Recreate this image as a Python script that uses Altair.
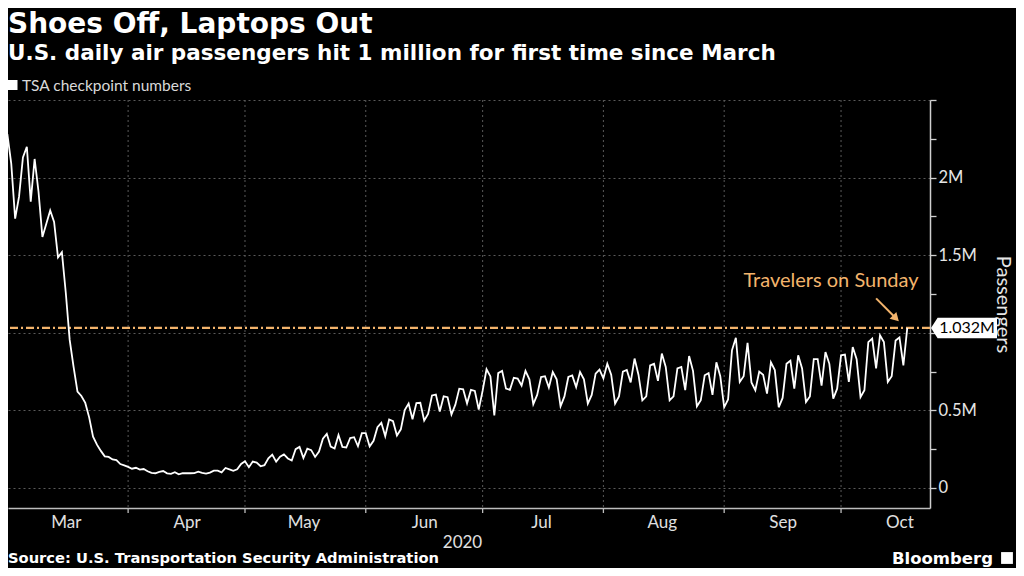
import altair as alt
import pandas as pd

# Daily TSA checkpoint numbers (thousands), 2020
mar = [2280, 2090, 1736, 1877, 2130, 2199, 1845, 2120, 1909, 1617,
       1703, 1788, 1714, 1486, 1519, 1258, 954, 780, 621, 593,
       548, 455, 331, 279, 239, 204, 200, 184, 180, 154, 146]
apr = [136, 124, 130, 118, 122, 108, 97, 95, 104, 109,
       94, 91, 102, 88, 95, 96, 95, 96, 105, 97,
       93, 99, 112, 112, 101, 129, 120, 111, 120, 155]
may = [172, 134, 170, 163, 140, 147, 191, 215, 170, 201,
       216, 190, 177, 250, 265, 193, 253, 244, 200, 235,
       318, 349, 267, 254, 341, 265, 261, 322, 327, 269, 353]
jun = [353, 268, 304, 392, 420, 333, 441, 430, 338, 378,
       502, 544, 443, 547, 549, 434, 477, 596, 602, 492,
       590, 585, 474, 537, 640, 636, 545, 632, 625, 505]
jul = [627, 765, 719, 467, 740, 755, 640, 632, 710, 705,
       660, 755, 700, 540, 600, 715, 720, 647, 747, 700,
       526, 590, 715, 725, 650, 747, 700, 544, 600, 737, 763]
aug = [707, 800, 730, 544, 590, 750, 760, 680, 834, 730,
       565, 590, 790, 800, 690, 866, 780, 565, 590, 770,
       780, 630, 850, 755, 526, 565, 726, 740, 600, 810, 720]
sep = [520, 570, 887, 968, 683, 720, 935, 680, 630, 750,
       730, 608, 810, 760, 520, 580, 800, 820, 640, 855,
       770, 554, 590, 830, 830, 660, 876, 800, 576, 640]
octo = [855, 860, 683, 908, 830, 586, 630, 940, 963, 770,
        984, 940, 683, 720, 950, 970, 790, 1031.505]

values_k = mar + apr + may + jun + jul + aug + sep + octo
dates = pd.date_range("2020-03-01", periods=len(values_k), freq="D").strftime("%Y-%m-%d")
df = pd.DataFrame({"date": list(dates), "passengers": [v * 1000 for v in values_k]})

month_starts = ["2020-04-01", "2020-05-01", "2020-06-01", "2020-07-01",
                "2020-08-01", "2020-09-01", "2020-10-01"]
month_label_days = [(3, 16), (4, 16), (5, 16), (6, 16), (7, 16), (8, 16), (9, 16), (10, 16)]
y_ticks = [0, 250000, 500000, 750000, 1000000, 1250000, 1500000, 1750000,
           2000000, 2250000, 2500000]
latest_value = 1031505
latest_label = "1.032M"

ORANGE = "#f3b46c"
W, H = 922, 408
FONT = "Lato"
HFONT = "DejaVu Sans"

xscale = alt.Scale(type="utc",
                   domain=[alt.DateTime(year=2020, month=3, date=1, hours=4, utc=True),
                           alt.DateTime(year=2020, month=10, date=23, hours=20, utc=True)])
yscale = alt.Scale(domain=[-129000, 2500000], nice=False, zero=False)

xaxis = alt.Axis(values=[alt.DateTime(year=2020, month=m, date=d, utc=True) for m, d in month_label_days],
                 format="%b", ticks=False, tickSize=0, grid=False, domain=True,
                 domainColor="#bdbdbd", domainWidth=1.5, labelColor="#e0e0e0",
                 labelFontSize=17, labelFont=FONT, labelBaseline="alphabetic",
                 labelPadding=19, title=None, labelFlush=False, labelOverlap=False)
yaxis = alt.Axis(orient="right", values=y_ticks,
                 labelExpr="datum.value == 0 ? '0' : (datum.value % 500000 != 0 || datum.value == 1000000 || datum.value == 2500000) ? '' : (datum.value / 1000000) + 'M'",
                 grid=True, gridColor="#5a5a5a", gridDash=[2, 3], gridWidth=1,
                 gridOpacity={"condition": {"test": "datum.value % 500000 === 0", "value": 1}, "value": 0},
                 tickSize=6, tickColor="#cfcfcf", tickWidth=1.3,
                 domainColor="#cfcfcf", domainWidth=1.5,
                 labelColor="#e6e6e6", labelFontSize=16.5, labelFont=FONT, labelPadding=2,
                 title="Passengers", titleColor="#e6e6e6", titleFontSize=20,
                 titleFont=FONT, titleFontWeight="normal", titleAngle=90,
                 titleX=72, titleY=H / 2, titleAlign="center", titleBaseline="middle")

ms_df = pd.DataFrame({"date": month_starts})
vgrid = alt.Chart(ms_df).mark_rule(color="#5a5a5a", strokeDash=[2, 3], strokeWidth=1).encode(
    x=alt.X("date:T", scale=xscale))
mticks = alt.Chart(ms_df).mark_rule(color="#bdbdbd", strokeWidth=1.3).encode(
    x=alt.X("date:T", scale=xscale), y=alt.value(H), y2=alt.value(H + 5))

ref = alt.Chart(pd.DataFrame({"v": [latest_value]})).mark_rule(
    color=ORANGE, strokeDash=[8, 3, 2, 3], strokeWidth=2.2).encode(
    y=alt.Y("v:Q", scale=yscale))

line = alt.Chart(df).mark_line(color="white", strokeWidth=1.8, clip=True).encode(
    x=alt.X("date:T", scale=xscale, axis=xaxis),
    y=alt.Y("passengers:Q", scale=yscale, axis=yaxis))

ann_df = pd.DataFrame({"date": ["2020-09-28T10:00:00Z"], "v": [1293000],
                       "label": ["Travelers on Sunday"]})
ann = alt.Chart(ann_df).mark_text(color=ORANGE, fontSize=20, font=FONT, align="center",
                                  baseline="alphabetic").encode(
    x=alt.X("date:T", scale=xscale), y=alt.Y("v:Q", scale=yscale), text="label:N")

arrow_df = pd.DataFrame({"date": ["2020-10-10T00:00:00Z"], "v": [1222000],
                         "date2": ["2020-10-14T20:00:00Z"], "v2": [1100000]})
arrow = alt.Chart(arrow_df).mark_rule(color=ORANGE, strokeWidth=2).encode(
    x=alt.X("date:T", scale=xscale), x2="date2:T",
    y=alt.Y("v:Q", scale=yscale), y2="v2:Q")
head = alt.Chart(arrow_df).mark_point(shape="triangle", angle=135, filled=True,
                                      color=ORANGE, size=90, opacity=1).encode(
    x=alt.X("date2:T", scale=xscale), y=alt.Y("v2:Q", scale=yscale))

tag_df = pd.DataFrame({"v": [latest_value], "label": [latest_label]})
tag = alt.Chart(tag_df).mark_point(
    shape="M -1 0 L -0.8 -0.31 L 1 -0.31 L 1 0.31 L -0.8 0.31 Z",
    filled=True, color="white", size=66 * 66, opacity=1, strokeWidth=0).encode(
    x=alt.value(956), y=alt.Y("v:Q", scale=yscale))
tag_text = alt.Chart(tag_df).mark_text(color="black", fontSize=16, font=FONT,
                                       align="center", baseline="middle").encode(
    x=alt.value(959), y=alt.Y("v:Q", scale=yscale), text="label:N")

year_df = pd.DataFrame({"date": ["2020-06-25T20:00:00Z"], "label": ["2020"]})
year = alt.Chart(year_df).mark_text(color="#e0e0e0", fontSize=17, font=FONT,
                                    align="center", baseline="alphabetic").encode(
    x=alt.X("date:T", scale=xscale), y=alt.value(448), text="label:N")


def label(text, x, y, size, color="white", weight="normal", align="left", font=HFONT):
    return alt.Chart(pd.DataFrame({"label": [text]})).mark_text(
        fontSize=size, color=color, fontWeight=weight, align=align,
        baseline="alphabetic", font=font).encode(
        x=alt.value(x), y=alt.value(y), text="label:N")


title = label("Shoes Off, Laptops Out", 0, -67, 28, weight="bold")
subtitle = label("U.S. daily air passengers hit 1 million for first time since March",
                 0, -40, 21.5, weight="bold")
legend_sq = alt.Chart(pd.DataFrame({"k": [1]})).mark_point(
    shape="square", filled=True, color="white", size=100, opacity=1).encode(
    x=alt.value(4.5), y=alt.value(-15))
legend_txt = label("TSA checkpoint numbers", 14, -9, 15.5, color="#d9d9d9", font=FONT)
source = label("Source: U.S. Transportation Security Administration", 0, 463, 14.7,
               weight="bold")
brand = label("Bloomberg", 985, 464, 16.5, weight="bold", align="right")
icon = alt.Chart(pd.DataFrame({"k": [1]})).mark_point(
    shape="square", filled=True, color="white", size=140, opacity=1).encode(
    x=alt.value(999), y=alt.value(458))

chart = alt.layer(
    vgrid, mticks, ref, line, ann, arrow, head, tag, tag_text, year,
    title, subtitle, legend_sq, legend_txt, source, brand, icon
).properties(
    width=W, height=H,
    padding={"left": 0, "top": 92, "right": 86, "bottom": 60},
    autosize=alt.AutoSizeParams(type="none"),
).configure(background="black").configure_view(stroke=None)

chart.save("out.html", embed_options={"renderer": "svg", "actions": False})
